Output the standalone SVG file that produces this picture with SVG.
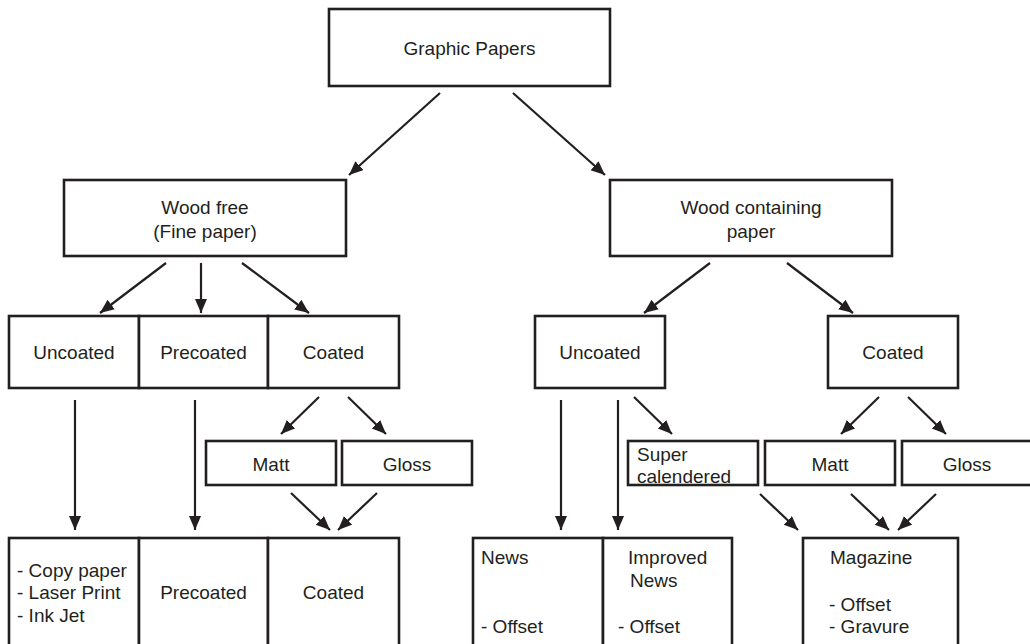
<svg xmlns="http://www.w3.org/2000/svg" width="1030" height="644" viewBox="0 0 1030 644">
<style>
rect.b{fill:#fff;stroke:#231f20;stroke-width:2.6}
text{font-family:"Liberation Sans",Arial,sans-serif;font-size:19px;fill:#231f20}
.c{text-anchor:middle}
line.a{stroke:#231f20;stroke-width:2.2;marker-end:url(#ah)}
</style>
<defs>
<marker id="ah" markerUnits="userSpaceOnUse" markerWidth="15" markerHeight="13" refX="14" refY="6" orient="auto">
<path d="M0,0 L14,6 L0,12 z" fill="#231f20"/>
</marker>
</defs>
<rect width="1030" height="644" fill="#fff"/>
<g id="n-graphic"><rect class="b" x="329" y="9" width="281" height="77"/><text class="c" x="469.5" y="55">Graphic Papers</text></g>
<g id="n-woodfree"><rect class="b" x="64" y="180" width="282" height="76"/><text class="c" x="205" y="214">Wood free</text><text class="c" x="205" y="238">(Fine paper)</text></g>
<g id="n-woodcont"><rect class="b" x="610" y="180" width="282" height="76"/><text class="c" x="751" y="214">Wood containing</text><text class="c" x="751" y="238">paper</text></g>
<g id="n-wf-uncoated"><rect class="b" x="9" y="316" width="130" height="72"/><text class="c" x="74" y="359">Uncoated</text></g>
<g id="n-wf-precoated"><rect class="b" x="139" y="316" width="129" height="72"/><text class="c" x="203.5" y="359">Precoated</text></g>
<g id="n-wf-coated"><rect class="b" x="268" y="316" width="131" height="72"/><text class="c" x="333.5" y="359">Coated</text></g>
<g id="n-wc-uncoated"><rect class="b" x="535" y="316" width="130" height="72"/><text class="c" x="600" y="359">Uncoated</text></g>
<g id="n-wc-coated"><rect class="b" x="828" y="316" width="130" height="72"/><text class="c" x="893" y="359">Coated</text></g>
<g id="n-wf-matt"><rect class="b" x="206" y="441" width="130" height="44"/><text class="c" x="271" y="471">Matt</text></g>
<g id="n-wf-gloss"><rect class="b" x="342" y="441" width="130" height="44"/><text class="c" x="407" y="471">Gloss</text></g>
<g id="n-supercal"><rect class="b" x="628" y="441" width="130" height="44"/><text x="637" y="461">Super</text><text x="637" y="483">calendered</text></g>
<g id="n-wc-matt"><rect class="b" x="765" y="441" width="130" height="44"/><text class="c" x="830" y="471">Matt</text></g>
<g id="n-wc-gloss"><rect class="b" x="902" y="441" width="131" height="44"/><text class="c" x="967" y="471">Gloss</text></g>
<g id="n-uses"><rect class="b" x="9" y="538" width="130" height="120"/><text x="17" y="577">- Copy paper</text><text x="17" y="599">- Laser Print</text><text x="17" y="622">- Ink Jet</text></g>
<g id="n-precoated-out"><rect class="b" x="139" y="538" width="129" height="120"/><text class="c" x="203.5" y="599">Precoated</text></g>
<g id="n-coated-out"><rect class="b" x="268" y="538" width="131" height="120"/><text class="c" x="333.5" y="599">Coated</text></g>
<g id="n-news"><rect class="b" x="473" y="538" width="130" height="120"/><text x="481" y="564">News</text><text x="481" y="633">- Offset</text></g>
<g id="n-impnews"><rect class="b" x="603" y="538" width="129" height="120"/><text x="628" y="564">Improved</text><text x="630" y="587">News</text><text x="618" y="633">- Offset</text></g>
<g id="n-magazine"><rect class="b" x="803" y="538" width="155" height="120"/><text x="830" y="564">Magazine</text><text x="829" y="611">- Offset</text><text x="829" y="633">- Gravure</text></g>
<g id="connectors">
<line class="a" x1="440" y1="93" x2="349" y2="175"/>
<line class="a" x1="513" y1="93" x2="605" y2="175"/>
<line class="a" x1="166" y1="263" x2="100" y2="313"/>
<line class="a" x1="201" y1="263" x2="201" y2="313"/>
<line class="a" x1="242" y1="263" x2="309" y2="313"/>
<line class="a" x1="710" y1="263" x2="644" y2="313"/>
<line class="a" x1="787" y1="263" x2="853" y2="313"/>
<line class="a" x1="75" y1="400" x2="75" y2="530"/>
<line class="a" x1="195" y1="400" x2="195" y2="530"/>
<line class="a" x1="319" y1="397" x2="281" y2="434"/>
<line class="a" x1="348" y1="397" x2="386" y2="434"/>
<line class="a" x1="291" y1="493" x2="330" y2="530"/>
<line class="a" x1="377" y1="493" x2="338" y2="530"/>
<line class="a" x1="561" y1="400" x2="561" y2="530"/>
<line class="a" x1="618" y1="400" x2="618" y2="530"/>
<line class="a" x1="634" y1="397" x2="672" y2="434"/>
<line class="a" x1="879" y1="397" x2="841" y2="434"/>
<line class="a" x1="908" y1="397" x2="946" y2="434"/>
<line class="a" x1="760" y1="494" x2="798" y2="530"/>
<line class="a" x1="851" y1="494" x2="889" y2="530"/>
<line class="a" x1="936" y1="494" x2="898" y2="530"/>
</g>
</svg>
